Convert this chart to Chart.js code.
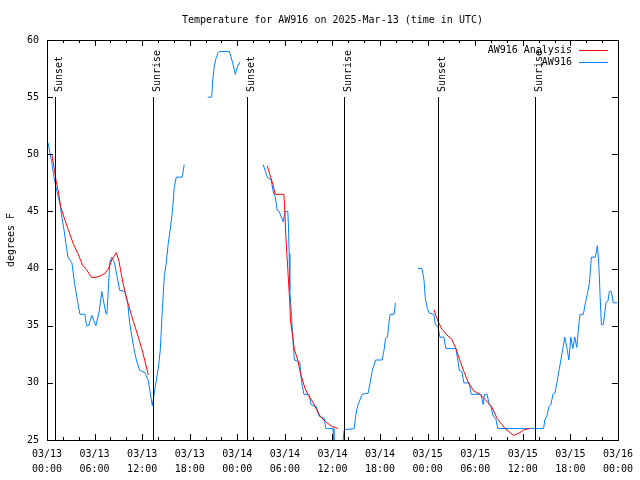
<!DOCTYPE html>
<html>
<head>
<meta charset="utf-8">
<script src="https://cdn.jsdelivr.net/npm/chart.js@4/dist/chart.umd.min.js"></script>
<style>
  html, body { margin: 0; padding: 0; background: #fff; }
  #wrap { width: 640px; height: 480px; }
</style>
</head>
<body>
<div id="wrap"><canvas id="c" width="640" height="480"></canvas></div>
<script>
// ---- Data (hours since 03/13 00:00 UTC) ----
const titleText = 'Temperature for AW916 on 2025-Mar-13 (time in UTC)';
const yAxisTitle = 'degrees F';
const xTickDates = ['03/13', '03/13', '03/13', '03/13', '03/14', '03/14', '03/14', '03/14', '03/15', '03/15', '03/15', '03/15', '03/16'];
const xTickTimes = ['00:00', '06:00', '12:00', '18:00', '00:00', '06:00', '12:00', '18:00', '00:00', '06:00', '12:00', '18:00', '00:00'];

const sunLabels = ['Sunset', 'Sunrise', 'Sunset', 'Sunrise', 'Sunset', 'Sunrise'];
const sunHours  = [1.0, 13.4, 25.2, 37.5, 49.3, 61.6];

const analysisLabel = 'AW916 Analysis';
const analysisHours = [
  0.63, 0.88, 1.13, 1.47, 1.72, 2.14, 2.64, 3.30, 3.90, 4.49, 4.99, 5.65, 6.57, 7.33, 7.75, 8.17, 8.76, 9.09, 9.59, 10.09, 10.84, 11.52, 12.10, 12.78,
  20.0,
  27.77, 28.11, 28.44, 28.78, 29.87, 29.95, 30.12, 30.37, 30.62, 30.70, 30.88, 31.20, 31.63, 31.88, 32.21, 32.55, 32.96, 33.46, 33.97, 34.47, 35.15, 35.90, 36.73,
  42.0,
  48.79, 49.04, 49.30, 49.80, 50.43, 51.06, 51.56, 52.06, 52.57, 53.15, 53.82, 54.57, 55.33, 56.08, 56.76, 57.77, 58.85, 59.52, 60.19, 60.78
];
const analysisTemps = [
  49.9, 48.9, 47.75, 46.6, 45.4, 44.5, 43.5, 42.2, 41.3, 40.3, 39.9, 39.2, 39.3, 39.6, 40.0, 40.75, 41.4, 40.6, 38.7, 37.25, 35.5, 34.0, 32.6, 30.7,
  null,
  49.0, 48.2, 47.5, 46.5, 46.5, 45.7, 42.8, 39.9, 37.0, 35.4, 34.6, 32.9, 32.0, 31.1, 30.25, 29.5, 28.9, 28.4, 27.7, 27.05, 26.6, 26.2, 26.0,
  null,
  36.4, 35.9, 35.4, 34.7, 34.2, 33.8, 33.0, 32.0, 31.0, 30.0, 29.3, 29.0, 28.5, 27.9, 26.9, 26.0, 25.4, 25.6, 25.9, 26.0
];

const obsLabel = 'AW916';
const obsHours = [
  0.13, 0.38, 0.63, 0.88, 1.13, 1.63, 1.88, 2.14, 2.39, 2.64, 3.14, 3.48, 3.81, 4.15, 4.78, 4.99, 5.24, 5.65, 6.16, 6.57, 6.91, 7.41, 7.55, 7.75, 7.92, 8.17, 8.51, 8.83, 9.17, 9.80, 10.18, 10.43, 10.93, 11.27, 11.69, 12.35, 12.78, 13.03, 13.28, 13.53, 13.78, 14.04, 14.29, 14.54, 14.79, 15.04, 15.29, 15.54, 15.80, 16.05, 16.30, 17.05, 17.30,
  18.5,
  20.27, 20.77, 20.90, 21.11, 21.32, 21.53, 21.74, 23.00, 23.21, 23.41, 23.75, 24.04, 24.34,
  25.5,
  27.27, 27.77, 28.27, 28.53, 28.78, 29.03, 29.28, 29.78, 30.03, 30.37, 30.45, 30.54, 30.62, 30.79, 30.95, 31.04, 31.20, 31.88, 32.04, 32.21, 32.39, 33.05, 33.30, 33.97, 34.31, 34.97, 35.15, 36.07, 36.19, 36.7, 37.26, 37.48, 38.74, 38.92, 39.17, 39.75, 40.50, 40.75, 41.00, 41.43, 42.26, 42.51, 42.69, 42.94, 43.10, 43.26, 43.77, 43.94,
  45.0,
  46.78, 47.29, 47.54, 47.71, 47.96, 48.22, 48.79, 48.97, 49.30, 49.55, 50.05, 50.30, 51.56, 51.81, 51.99, 52.32, 52.57, 53.24, 53.49, 54.75, 55.00, 55.17, 55.50, 55.76, 56.01, 56.26, 56.59, 56.84, 62.62, 62.79, 63.04, 63.29, 63.55, 63.80, 64.05, 64.30, 64.55, 64.80, 65.05, 65.30, 65.55, 65.81, 66.06, 66.31, 66.56, 66.81, 67.06, 67.23, 67.64, 67.90, 68.15, 68.40, 68.65, 69.15, 69.30, 69.40, 69.53, 69.65, 69.74, 69.91, 70.16, 70.33, 70.50, 70.75, 70.91, 71.16, 71.42, 71.92
];
const obsTemps = [
  51.0, 50.1, 49.2, 48.0, 47.1, 45.7, 44.5, 43.4, 42.2, 41.0, 40.5, 38.7, 37.3, 36.0, 36.0, 35.0, 35.0, 35.9, 35.0, 36.2, 38.0, 36.1, 36.0, 38.4, 40.5, 41.0, 40.5, 39.3, 38.1, 38.0, 37.0, 35.2, 33.1, 32.0, 31.1, 30.9, 30.2, 29.1, 28.0, 29.1, 30.2, 31.3, 32.9, 36.4, 39.3, 40.5, 42.2, 43.4, 44.9, 47.1, 48.0, 48.0, 49.1,
  null,
  55.0, 55.0, 56.5, 57.8, 58.4, 58.8, 59.0, 59.0, 58.5, 58.0, 57.0, 57.7, 58.1,
  null,
  49.1, 48.0, 47.75, 46.7, 46.3, 45.1, 45.0, 44.1, 45.0, 45.0, 43.7, 41.3, 38.1, 36.4, 34.5, 33.5, 32.0, 31.8, 30.5, 29.7, 29.0, 29.0, 28.1, 27.9, 27.1, 26.9, 26.0, 26.0, 24.5, 24.0, 24.5, 25.9, 26.0, 27.1, 28.0, 29.0, 29.1, 30.0, 31.0, 32.0, 32.0, 32.9, 33.9, 34.0, 35.1, 36.0, 36.0, 37.0,
  null,
  40.0, 40.0, 39.0, 37.4, 36.5, 36.1, 36.0, 35.1, 34.9, 34.0, 34.0, 33.0, 33.0, 32.0, 31.1, 31.0, 30.0, 30.0, 29.0, 29.0, 28.1, 29.0, 29.0, 28.1, 27.9, 27.1, 26.9, 26.0, 26.0, 26.8, 27.1, 27.9, 28.1, 29.0, 29.1, 30.0, 31.0, 32.0, 33.0, 34.0, 33.1, 32.0, 34.0, 33.0, 34.0, 33.1, 35.1, 36.0, 36.0, 37.0, 37.8, 38.7, 41.0, 41.0, 41.6, 42.0, 41.0, 39.4, 37.7, 35.1, 35.1, 36.1, 37.0, 37.2, 38.0, 38.0, 37.0, 37.0
];

const toPoints = (xs, ys) => xs.map((x, i) => ({ x: x, y: ys[i] }));

const FONT = 'DejaVu Sans Mono';
Chart.defaults.font.family = FONT;
Chart.defaults.font.size = 10;
Chart.defaults.color = '#000';

const decorPlugin = {
  id: 'decor',
  afterDatasetsDraw(chart) {
    const ctx = chart.ctx;
    const a = chart.chartArea;
    const xs = chart.scales.x, ys = chart.scales.y;
    ctx.save();
    ctx.strokeStyle = '#000';
    ctx.lineWidth = 1;
    // sunrise / sunset lines
    sunHours.forEach((h, i) => {
      const px = Math.round(xs.getPixelForValue(h)) + 0.5;
      ctx.beginPath();
      ctx.moveTo(px, a.top + 57);
      ctx.lineTo(px, a.bottom);
      ctx.stroke();
      ctx.save();
      ctx.translate(px + 6.5, a.top + 52);
      ctx.rotate(-Math.PI / 2);
      ctx.font = '10px ' + FONT;
      ctx.fillStyle = '#000';
      ctx.textAlign = 'left';
      ctx.textBaseline = 'alphabetic';
      ctx.fillText(sunLabels[i], 0, 0);
      ctx.restore();
    });
    // border
    ctx.strokeRect(Math.round(a.left) + 0.5, Math.round(a.top) + 0.5, Math.round(a.right - a.left), Math.round(a.bottom - a.top));
    // x ticks (major every 6h, minor every 2h), mirrored on top
    for (let h = xs.min; h <= xs.max; h += 2) {
      const px = Math.round(xs.getPixelForValue(h)) + 0.5;
      const len = (h % 6 === 0) ? 6 : 3;
      ctx.beginPath();
      ctx.moveTo(px, a.bottom); ctx.lineTo(px, a.bottom - len);
      ctx.moveTo(px, a.top); ctx.lineTo(px, a.top + len);
      ctx.stroke();
    }
    // y ticks, mirrored on right
    ys.ticks.forEach(t => {
      const py = Math.round(ys.getPixelForValue(t.value)) + 0.5;
      ctx.beginPath();
      ctx.moveTo(a.left, py); ctx.lineTo(a.left + 6, py);
      ctx.moveTo(a.right, py); ctx.lineTo(a.right - 6, py);
      ctx.stroke();
    });
    // legend
    ctx.font = '10px ' + FONT;
    ctx.textAlign = 'right';
    ctx.textBaseline = 'middle';
    chart.data.datasets.forEach((ds, i) => {
      const y = a.top + 10 + i * 12;
      ctx.fillStyle = '#000';
      ctx.fillText(ds.label, a.right - 46, y);
      ctx.strokeStyle = ds.borderColor;
      ctx.beginPath();
      ctx.moveTo(a.right - 39, Math.round(y) + 0.5);
      ctx.lineTo(a.right - 10, Math.round(y) + 0.5);
      ctx.stroke();
    });
    // title
    ctx.fillStyle = '#000';
    ctx.textAlign = 'center';
    ctx.textBaseline = 'middle';
    ctx.fillText(titleText, (a.left + a.right) / 2, 20);
    ctx.restore();
  }
};

new Chart(document.getElementById('c'), {
  type: 'line',
  data: {
    datasets: [
      {
        label: analysisLabel,
        data: toPoints(analysisHours, analysisTemps),
        borderColor: '#ff0000',
        backgroundColor: '#ff0000',
        borderWidth: 1,
        pointRadius: 0,
        spanGaps: false,
        tension: 0
      },
      {
        label: obsLabel,
        data: toPoints(obsHours, obsTemps),
        borderColor: '#0080ff',
        backgroundColor: '#0080ff',
        borderWidth: 1,
        pointRadius: 0,
        spanGaps: false,
        tension: 0
      }
    ]
  },
  options: {
    responsive: false,
    animation: false,
    devicePixelRatio: 1,
    layout: { padding: { left: 0, right: 20, top: 40, bottom: 0 } },
    plugins: { legend: { display: false }, title: { display: false }, tooltip: { enabled: false } },
    scales: {
      x: {
        type: 'linear',
        min: 0, max: 72,
        grid: { display: false, drawTicks: false },
        border: { display: false },
        afterFit: s => { s.height = 40; },
        ticks: {
          stepSize: 6,
          autoSkip: false,
          maxRotation: 0,
          padding: 7,
          font: { size: 10, lineHeight: 1.5 },
          callback: (v) => {
            const i = Math.round(v / 6);
            return [xTickDates[i], xTickTimes[i]];
          }
        }
      },
      y: {
        type: 'linear',
        min: 25, max: 60,
        grid: { display: false, drawTicks: false },
        border: { display: false },
        afterFit: s => { s.width = 47; },
        ticks: { stepSize: 5, padding: 8, font: { size: 10 } },
        title: { display: true, text: yAxisTitle, padding: { top: 5, bottom: 0 }, font: { size: 10 } }
      }
    }
  },
  plugins: [decorPlugin]
});
</script>
</body>
</html>
